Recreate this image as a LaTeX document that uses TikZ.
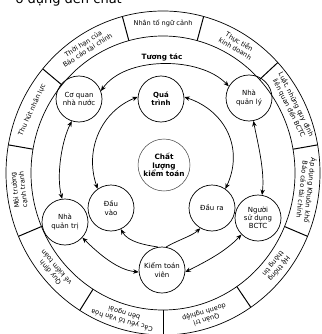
\documentclass[tikz,border=0pt]{standalone}
\usepackage{fontspec}
\setmainfont{DejaVu Sans}
\usetikzlibrary{arrows.meta}
\begin{document}
\begin{tikzpicture}[x=1pt,y=-1pt,
  circ/.style={circle,draw,line width=0.7pt,minimum size=46pt,inner sep=0pt,align=center,font=\fontsize{7}{8.2}\selectfont},
  ringtxt/.style={align=center,font=\fontsize{6.6}{8}\selectfont,inner sep=0pt},
  tip/.tip={Stealth[length=5.5pt,width=4.5pt]},
  link/.style={line width=0.7pt,tip-tip},
  onelink/.style={line width=0.7pt,-tip}
]
\useasboundingbox (0,0) rectangle (321,334);
\clip (0,0) rectangle (321,334);
% title (cut off at the top edge)
\node[anchor=base east,font=\fontsize{13}{13}\selectfont,inner sep=0pt] (title) at (122,3.5) {ố dụng đến chất};
% ring
\draw[line width=0.7pt] (163,173) ellipse [x radius=157, y radius=162];
\draw[line width=0.7pt] (163,173) ellipse [x radius=132, y radius=137];
\foreach \a in {105,75,43,10,-23,-56,-90,-122,-157,170,140}
  \draw[line width=1pt] ({163+132*cos(\a)},{173-137*sin(\a)}) -- ({163+157*cos(\a)},{173-162*sin(\a)});
\node[ringtxt,rotate=0] (r1) at ({163+144.5*cos(90)},{173-149.5*sin(90)}) {Nhân tố ngữ cảnh};
\node[ringtxt,rotate=32.5] (r2) at ({163+144.5*cos(122.5)},{173-149.5*sin(122.5)}) {Thời hạn của\\Báo cáo tài chính};
\node[ringtxt,rotate=65] (r3) at ({163+144.5*cos(155)},{173-149.5*sin(155)}) {Thu hút nhân lực};
\node[ringtxt,rotate=96.5] (r4) at ({163+144.5*cos(186.5)},{173-149.5*sin(186.5)}) {Môi trường\\cạnh tranh};
\node[ringtxt,rotate=130.5] (r5) at ({163+144.5*cos(220.5)},{173-149.5*sin(220.5)}) {Quy định\\về kiểm toán};
\node[ringtxt,rotate=164] (r6) at ({163+144.5*cos(254)},{173-149.5*sin(254)}) {Các yếu tố văn hóa\\bên ngoài};
\node[ringtxt,rotate=197] (r7) at ({163+144.5*cos(287)},{173-149.5*sin(287)}) {Quản trị\\doanh nghiệp};
\node[ringtxt,rotate=231.5] (r8) at ({163+144.5*cos(321.5)},{173-149.5*sin(321.5)}) {Hệ thống\\thông tin};
\node[ringtxt,rotate=263.5] (r9) at ({163+144.5*cos(353.5)},{173-149.5*sin(353.5)}) {Áp dụng Khuôn khổ\\Báo cáo tài chính};
\node[ringtxt,rotate=-63.5] (r10) at ({163+144.5*cos(26.5)},{173-149.5*sin(26.5)}) {Luật, những quy định\\liên quan đến BCTC};
\node[ringtxt,rotate=-31] (r11) at ({163+144.5*cos(59)},{173-149.5*sin(59)}) {Thực tiễn\\kinh doanh};
% circles
\node[circ] (cq) at (79,99) {Cơ quan\\nhà nước};
\node[circ,font=\bfseries\fontsize{7}{8.2}\selectfont] (qt) at (161,99) {Quá\\trình};
\node[circ] (nql) at (249,98) {Nhà\\quản lý};
\node[circ,minimum size=52pt,line width=0.5pt,draw=black!75,font=\bfseries\fontsize{7.3}{8.6}\selectfont] (cl) at (164,165) {Chất\\lượng\\kiểm toán};
\node[circ] (dv) at (111,208) {Đầu\\vào};
\node[circ] (dr) at (212,208) {Đầu ra};
\node[circ] (nqt) at (65,222) {Nhà\\quản trị};
\node[circ] (nsd) at (258,218) {Người\\sử dụng\\BCTC};
\node[circ] (ktv) at (162,270) {Kiểm toán\\viên};
% connectors
\draw[link] (cq.20) .. controls (125,56) and (200,56) .. (nql.150);
\node[font=\bfseries\fontsize{7.3}{8}\selectfont,inner sep=0pt] (tt) at (162,57) {Tương tác};
\draw[link] (cq.252) .. controls (62,140) and (56,175) .. (nqt.97);
\draw[link] (nql.281) .. controls (257,140) and (265,170) .. (nsd.80);
\draw[link] (nqt.318) .. controls (100,255) and (118,270) .. (ktv.185);
\draw[link] (ktv.-5) .. controls (205,262) and (225,252) .. (nsd.225);
\draw[link] (qt.175) .. controls (102,111) and (84,149) .. (dv.125);
\draw[link] (qt.5) .. controls (226,111) and (244,149) .. (dr.55);
\draw[onelink] (ktv.100) .. controls (145,245) and (128,242) .. (dv.295);
\draw[onelink] (ktv.80) .. controls (178,240) and (192,236) .. (dr.240);
\end{tikzpicture}
\end{document}
